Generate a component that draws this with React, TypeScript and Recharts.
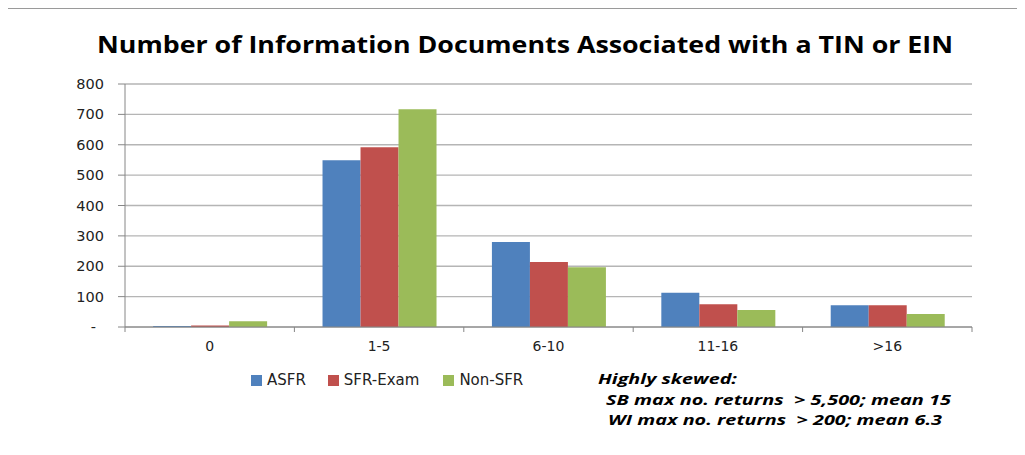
import React from "react";
import { BarChart, Bar, XAxis, YAxis, CartesianGrid, Legend } from "recharts";

const categories = ["0", "1-5", "6-10", "11-16", ">16"];
const asfr = [3, 549, 280, 113, 72];
const sfrExam = [5, 592, 214, 75, 72];
const nonSfr = [19, 717, 197, 56, 43];
const yTicks = [0, 100, 200, 300, 400, 500, 600, 700, 800];
const seriesNames = ["ASFR", "SFR-Exam", "Non-SFR"];
const seriesColors = ["#4F81BD", "#C0504D", "#9BBB59"];
const title = "Number of Information Documents Associated with a TIN or EIN";
const noteLines = [
  "Highly skewed:",
  "SB max no. returns  > 5,500; mean 15",
  "WI max no. returns  > 200; mean 6.3",
];

const data = categories.map((c, i) => ({
  cat: c,
  ASFR: asfr[i],
  "SFR-Exam": sfrExam[i],
  "Non-SFR": nonSfr[i],
}));

const PAGE_W = 1025;
const PAGE_H = 455;
const OFF = 8;
const W = 1009;
const H = 439;
const M = { top: 76, right: 45, left: 0, bottom: 90 };
const YW = 117;
const XH = 30;
const plotW = W - M.left - M.right - YW;
const band = plotW / categories.length;
const FONT = "'DejaVu Sans', sans-serif";

const XTick = (props: any) => {
  const { x, y, payload, index } = props;
  return (
    <g>
      <line x1={x - band / 2} x2={x - band / 2} y1={y - 8} y2={y - 3} stroke="#868686" />
      {index === categories.length - 1 && (
        <line x1={x + band / 2} x2={x + band / 2} y1={y - 8} y2={y - 3} stroke="#868686" />
      )}
      <text x={x} y={y + 16} textAnchor="middle" fontFamily={FONT} fontSize={14} fill="#222">
        {payload.value}
      </text>
    </g>
  );
};

const YTick = (props: any) => {
  const { x, y, payload } = props;
  const v = payload.value;
  return (
    <text
      x={v === 0 ? x - 8 : x}
      y={y + 5}
      textAnchor="end"
      fontFamily={FONT}
      fontSize={14.5}
      fill="#222"
    >
      {v === 0 ? "-" : v}
    </text>
  );
};

const LegendContent = () => (
  <div style={{ display: "flex", alignItems: "center", fontFamily: FONT, fontSize: 15, color: "#222" }}>
    {seriesNames.map((n, i) => (
      <div key={n} style={{ display: "flex", alignItems: "center", marginRight: [22, 24, 0][i] }}>
        <span
          style={{
            display: "inline-block",
            width: 11,
            height: 11,
            background: seriesColors[i],
            marginRight: 5,
          }}
        />
        <span>{n}</span>
      </div>
    ))}
  </div>
);

export default function App() {
  return (
    <div
      style={{
        position: "relative",
        width: PAGE_W,
        height: PAGE_H,
        margin: -OFF,
        overflow: "hidden",
        background: "#fff",
      }}
    >
      <div style={{ position: "absolute", left: OFF, top: OFF }}>
        <BarChart
          width={W}
          height={H}
          data={data}
          margin={M}
          barCategoryGap="16.6%"
          barGap={0}
        >
          <CartesianGrid vertical={false} stroke="#b5b5b5" strokeWidth={1.3} />
          <XAxis
            dataKey="cat"
            height={XH}
            tickLine={false}
            axisLine={{ stroke: "#868686" }}
            tick={<XTick />}
            interval={0}
          />
          <YAxis
            width={YW}
            domain={[0, 800]}
            ticks={yTicks}
            interval={0}
            tickSize={7}
            tickMargin={14}
            tickLine={{ stroke: "#868686" }}
            axisLine={{ stroke: "#868686" }}
            tick={<YTick />}
          />
          <Legend
            layout="horizontal"
            align="center"
            verticalAlign="middle"
            content={<LegendContent />}
            wrapperStyle={{ top: 363, left: 243, width: 330 }}
          />
          <Bar dataKey="ASFR" fill={seriesColors[0]} isAnimationActive={false} />
          <Bar dataKey="SFR-Exam" fill={seriesColors[1]} isAnimationActive={false} />
          <Bar dataKey="Non-SFR" fill={seriesColors[2]} isAnimationActive={false} />
        </BarChart>
      </div>
      <svg
        width={PAGE_W}
        height={PAGE_H}
        style={{ position: "absolute", left: 0, top: 0, pointerEvents: "none" }}
      >
        <rect x={6} y={7} width={2} height={PAGE_H - 7} fill="#7f7f7f" />
        <rect x={6} y={7} width={PAGE_W - 6} height={2} fill="#9a9a9a" />
        <g transform={`translate(${OFF},${OFF})`}>
          <text
            x={89}
            y={45}
            fontFamily="'Open Sans', sans-serif"
            fontWeight={700}
            fontSize={23}
            fill="#000"
            textLength={856}
            lengthAdjust="spacingAndGlyphs"
          >
            {title}
          </text>
          {noteLines.map((t, i) => (
            <text
              key={i}
              x={[590, 598, 600][i]}
              y={[376, 397, 417][i]}
              fontFamily="'Open Sans', sans-serif"
              fontWeight={700}
              fontStyle="italic"
              fontSize={15}
              fill="#000"
              textLength={[139, 345, 334][i]}
              lengthAdjust="spacingAndGlyphs"
              xmlSpace="preserve"
            >
              {t}
            </text>
          ))}
        </g>
      </svg>
    </div>
  );
}
